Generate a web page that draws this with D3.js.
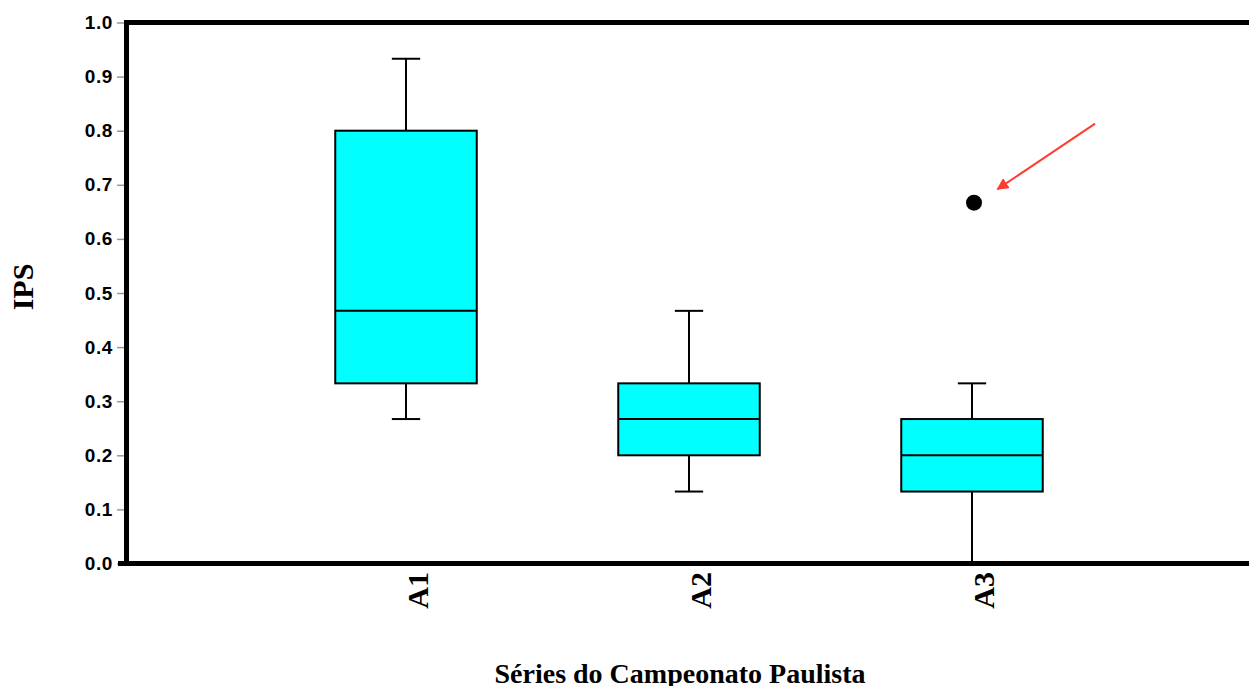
<!DOCTYPE html>
<html>
<head>
<meta charset="utf-8">
<script src="https://cdn.jsdelivr.net/npm/d3@7"></script>
<style>
  body { margin: 0; background: #fff; overflow: hidden; }
  .tick-label { font-family: 'Liberation Sans', Arial, sans-serif; font-weight: bold; font-size: 19px; letter-spacing: 0.6px; }
  .serif { font-family: 'Liberation Serif', 'Times New Roman', serif; font-weight: bold; }
</style>
</head>
<body>
<script>
const categories = ['A1', 'A2', 'A3']
// lower whisker, Q1, median, Q3, upper whisker
const lowWhisker = [0.267, 0.133, 0.0]
const q1 = [0.333, 0.2, 0.133]
const median = [0.467, 0.267, 0.2]
const q3 = [0.8, 0.333, 0.267]
const highWhisker = [0.933, 0.467, 0.333]
const outliers = [{cat: 'A3', value: 0.667}]
const yTicks = [0, 0.1, 0.2, 0.3, 0.4, 0.5, 0.6, 0.7, 0.8, 0.9, 1.0]
const arrowFrom = [3.435, 0.813]
const arrowTo = [3.09, 0.692]

const chart = () => {
    let width = 1249,
        height = 686
    let svg = d3.select('body').append('svg')
        .attr('width', width)
        .attr('height', height)

    let x = d3.scaleLinear().domain([0, 4]).range([123, 1255])
    let y = d3.scaleLinear().domain([0, 1]).range([563.5, 22.5])
    let xi = c => x(categories.indexOf(c) + 1)

    svg.append('defs').append('marker')
        .attr('id', 'head')
        .attr('viewBox', '0 0 10 10')
        .attr('refX', 9).attr('refY', 5)
        .attr('markerWidth', 6).attr('markerHeight', 6)
        .attr('markerUnits', 'strokeWidth')
        .attr('orient', 'auto')
        .append('path')
        .attr('d', 'M0,0 L10,5 L0,10 z')
        .attr('fill', '#ff3b30')

    // y ticks
    let yAxis = d3.axisLeft(y).tickValues(yTicks).tickFormat(d3.format('.1f')).tickSize(7).tickPadding(4)
    let ya = svg.append('g').attr('transform', `translate(124,0)`).call(yAxis)
    ya.select('.domain').remove()
    ya.selectAll('line').attr('stroke', '#999').attr('stroke-width', 1.5)
    ya.selectAll('text').attr('class', 'tick-label').attr('fill', '#000')

    let data = categories.map((c, i) => ({
        cat: c, lo: lowWhisker[i], q1: q1[i], med: median[i], q3: q3[i], hi: highWhisker[i]
    }))
    let bw = x(0.5) - x(0)
    let cw = x(0.1) - x(0)

    let g = svg.selectAll('.box').data(data).enter().append('g').attr('class', 'box')
    g.append('line')
        .attr('x1', d => xi(d.cat)).attr('x2', d => xi(d.cat))
        .attr('y1', d => y(d.hi)).attr('y2', d => y(d.lo))
        .attr('stroke', '#000').attr('stroke-width', 2)
    g.append('line')
        .attr('x1', d => xi(d.cat) - cw / 2).attr('x2', d => xi(d.cat) + cw / 2)
        .attr('y1', d => y(d.hi)).attr('y2', d => y(d.hi))
        .attr('stroke', '#000').attr('stroke-width', 2)
    g.append('line')
        .attr('x1', d => xi(d.cat) - cw / 2).attr('x2', d => xi(d.cat) + cw / 2)
        .attr('y1', d => y(d.lo)).attr('y2', d => y(d.lo))
        .attr('stroke', '#000').attr('stroke-width', 2)
    g.append('rect')
        .attr('x', d => xi(d.cat) - bw / 2).attr('width', bw)
        .attr('y', d => y(d.q3)).attr('height', d => y(d.q1) - y(d.q3))
        .attr('fill', '#00ffff').attr('stroke', '#000').attr('stroke-width', 2)
    g.append('line')
        .attr('x1', d => xi(d.cat) - bw / 2).attr('x2', d => xi(d.cat) + bw / 2)
        .attr('y1', d => y(d.med)).attr('y2', d => y(d.med))
        .attr('stroke', '#000').attr('stroke-width', 2)

    svg.selectAll('.outlier').data(outliers).enter().append('circle')
        .attr('cx', d => xi(d.cat) + 2).attr('cy', d => y(d.value))
        .attr('r', 8).attr('fill', '#000')

    // annotation arrow
    svg.append('line')
        .attr('x1', x(arrowFrom[0])).attr('y1', y(arrowFrom[1]))
        .attr('x2', x(arrowTo[0])).attr('y2', y(arrowTo[1]))
        .attr('stroke', '#ff3b30').attr('stroke-width', 2)
        .attr('marker-end', 'url(#head)')

    // frame
    svg.append('line').attr('x1', 124).attr('x2', width).attr('y1', y(1)).attr('y2', y(1))
        .attr('stroke', '#000').attr('stroke-width', 5)
    svg.append('line').attr('x1', 118).attr('x2', width).attr('y1', y(0)).attr('y2', y(0))
        .attr('stroke', '#000').attr('stroke-width', 5)
    svg.append('line').attr('x1', 126.5).attr('x2', 126.5).attr('y1', y(1) - 2.5).attr('y2', y(0) + 2.5)
        .attr('stroke', '#000').attr('stroke-width', 5)

    // category labels
    svg.selectAll('.cat').data(categories).enter().append('text')
        .attr('class', 'serif')
        .attr('font-size', 30)
        .attr('text-anchor', 'end')
        .attr('transform', d => `translate(${xi(d) + 22},572) rotate(-90)`)
        .text(d => d)

    svg.append('text').attr('class', 'serif')
        .attr('font-size', 30)
        .attr('text-anchor', 'middle')
        .attr('transform', 'translate(33,287) rotate(-90)')
        .text('IPS')

    svg.append('text').attr('class', 'serif')
        .attr('font-size', 28)
        .attr('text-anchor', 'middle')
        .attr('x', 680).attr('y', 683)
        .text('Séries do Campeonato Paulista')
}
chart()
</script>
</body>
</html>
